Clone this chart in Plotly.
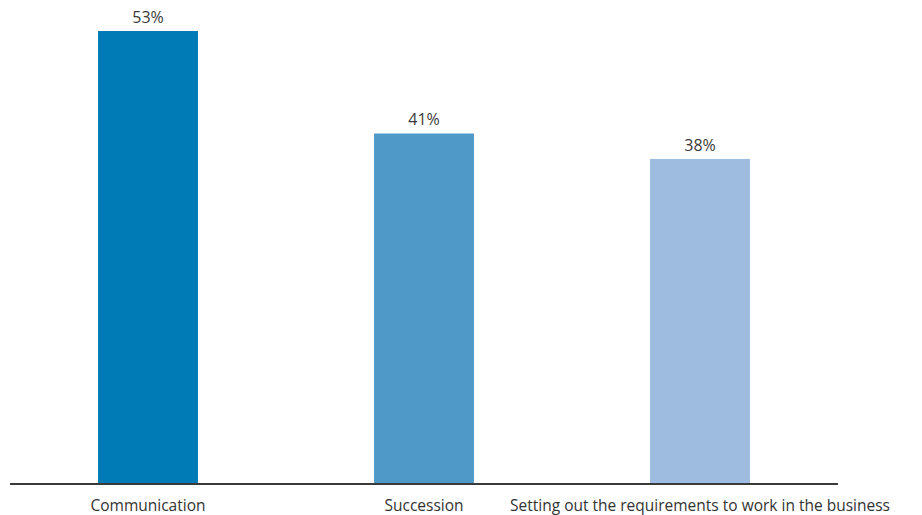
import plotly.graph_objects as go

categories = ["Communication", "Succession", "Setting out the requirements to work in the business"]
values = [53, 41, 38]
labels = ["53%", "41%", "38%"]
colors = ["#007bb6", "#4f99c9", "#9dbcdf"]

fig = go.Figure(go.Bar(
    x=categories, y=values, marker=dict(color=colors, line=dict(width=0)),
    text=labels, textposition="outside", cliponaxis=False,
    textfont=dict(family="Open Sans", size=16, color="#3a3a3a"),
    width=0.362,
))
fig.update_layout(
    width=922, height=515,
    margin=dict(l=10, r=84, t=14, b=32),
    paper_bgcolor="white", plot_bgcolor="white",
    showlegend=False,
    font=dict(family="Open Sans", size=15.5, color="#333333"),
    xaxis=dict(showline=True, linecolor="#3a3a3a", linewidth=1.5, showgrid=False,
               ticks="", tickfont=dict(size=15.5, color="#333333"), automargin=False,
               ticklabelstandoff=8),
    yaxis=dict(range=[0, 55], visible=False, showgrid=False, zeroline=False),
)
fig.write_html("out.html")
